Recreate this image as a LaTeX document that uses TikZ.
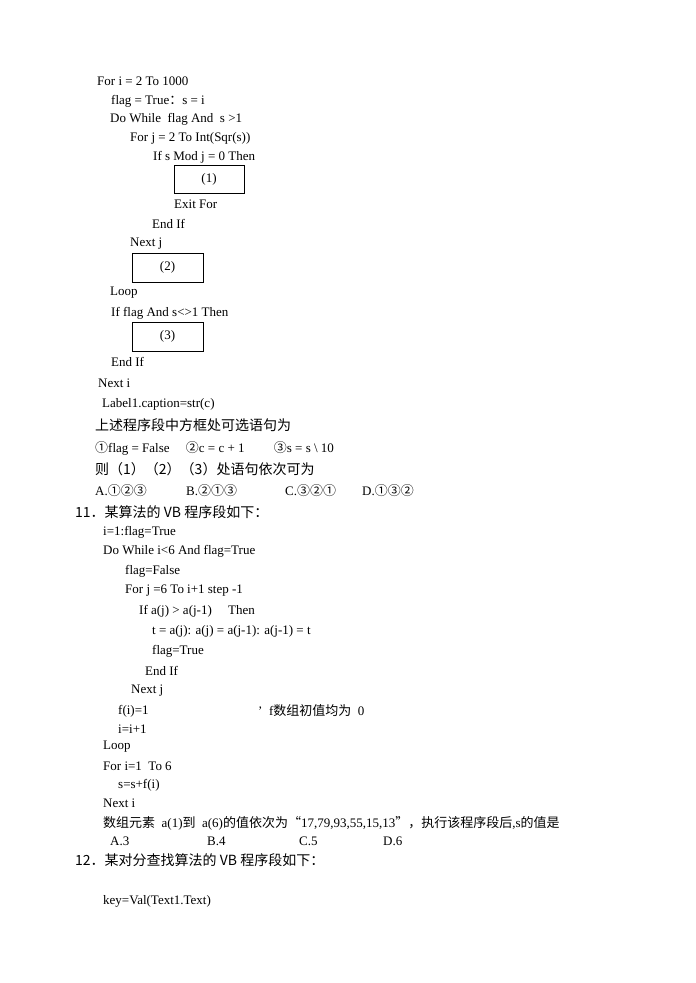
\documentclass[tikz,border=0pt]{standalone}
\usepackage{fontspec}
\setmainfont{Liberation Serif}
\newfontfamily\cjk{Noto Sans CJK SC}
\begin{document}
\begin{tikzpicture}[x=1pt,y=-1pt,
  tx/.style={anchor=west,inner sep=0pt,font=\fontsize{13}{15}\selectfont},
  cn/.style={anchor=west,inner sep=0pt,font=\fontsize{14}{16}\selectfont\cjk},
  bx/.style={draw,line width=0.8pt,minimum width=70pt,minimum height=28pt,inner sep=0pt,font=\fontsize{13}{15}\selectfont}]
\useasboundingbox (0,0) rectangle (696,983);
\node[tx] (a1) at (97,81) {For i = 2 To 1000};
\node[tx] (a2) at (111,101) {flag = True{\cjk ：}s = i};
\node[tx] (a3) at (110,119) {Do While\ \ flag And\ \ s >1};
\node[tx] (a4) at (130,138) {For j = 2 To Int(Sqr(s))};
\node[tx] (a5) at (153,157) {If s Mod j = 0 Then};
\node[bx] (b1) at (209,179) {(1)};
\node[tx] (a6) at (174,204) {Exit For};
\node[tx] (a7) at (152,224) {End If};
\node[tx] (a8) at (130,244) {Next j};
\node[bx,minimum width=71pt,minimum height=29pt] (b2) at (167.5,267.5) {(2)};
\node[tx] (a9) at (110,293) {Loop};
\node[tx] (a10) at (111,313) {If flag And s<>1 Then};
\node[bx,minimum width=71pt,minimum height=29pt] (b3) at (167.5,336.5) {(3)};
\node[tx] (a11) at (111,362) {End If};
\node[tx] (a12) at (98,383) {Next i};
\node[tx] (a13) at (102,404) {Label1.caption=str(c)};
\node[cn] (a14) at (95,425) {上述程序段中方框处可选语句为};
\node[tx] (a15) at (95,448) {{\cjk ①}flag = False\quad\ {\cjk ②}c = c + 1\qquad\ {\cjk ③}s = s \textbackslash\ 10};
\node[cn] (a16) at (95,469) {则（1）（2）（3）处语句依次可为};
\node[tx] (o1) at (95,491) {A.{\cjk ①②③}};
\node[tx] (o2) at (186,491) {B.{\cjk ②①③}};
\node[tx] (o3) at (285,491) {C.{\cjk ③②①}};
\node[tx] (o4) at (362,491) {D.{\cjk ①③②}};
\node[cn] (q11) at (75,512) {11．某算法的 VB 程序段如下：};
\node[tx] (c1) at (103,532) {i=1:flag=True};
\node[tx] (c2) at (103,551) {Do While i<6 And flag=True};
\node[tx] (c3) at (125,571) {flag=False};
\node[tx] (c4) at (125,591) {For j =6 To i+1 step -1};
\node[tx] (c5) at (139,611) {If a(j) > a(j-1)\quad\ Then};
\node[tx] (c6) at (152,631) {t = a(j): a(j) = a(j-1): a(j-1) = t};
\node[tx] (c7) at (152,651) {flag=True};
\node[tx] (c8) at (145,671) {End If};
\node[tx] (c9) at (131,691) {Next j};
\node[tx] (c10) at (118,711) {f(i)=1};
\node[tx] (c11) at (258,711) {'\ \ f{\cjk 数组初值均为}\ \ 0};
\node[tx] (c12) at (118,729) {i=i+1};
\node[tx] (c13) at (103,747) {Loop};
\node[tx] (c14) at (103,766) {For i=1\ \ To 6};
\node[tx] (c15) at (118,785) {s=s+f(i)};
\node[tx] (c16) at (103,803) {Next i};
\node[tx] (c17) at (103,823) {{\cjk 数组元素}\ \ a(1){\cjk 到}\ \ a(6){\cjk 的值依次为“}17,79,93,55,15,13{\cjk ”，执行该程序段后}{,}s{\cjk 的值是}};
\node[tx] (p1) at (110,841) {A.3};
\node[tx] (p2) at (207,841) {B.4};
\node[tx] (p3) at (299,841) {C.5};
\node[tx] (p4) at (383,841) {D.6};
\node[cn] (q12) at (75,860) {12．某对分查找算法的 VB 程序段如下：};
\node[tx] (d1) at (103,901) {key=Val(Text1.Text)};
\end{tikzpicture}
\end{document}
